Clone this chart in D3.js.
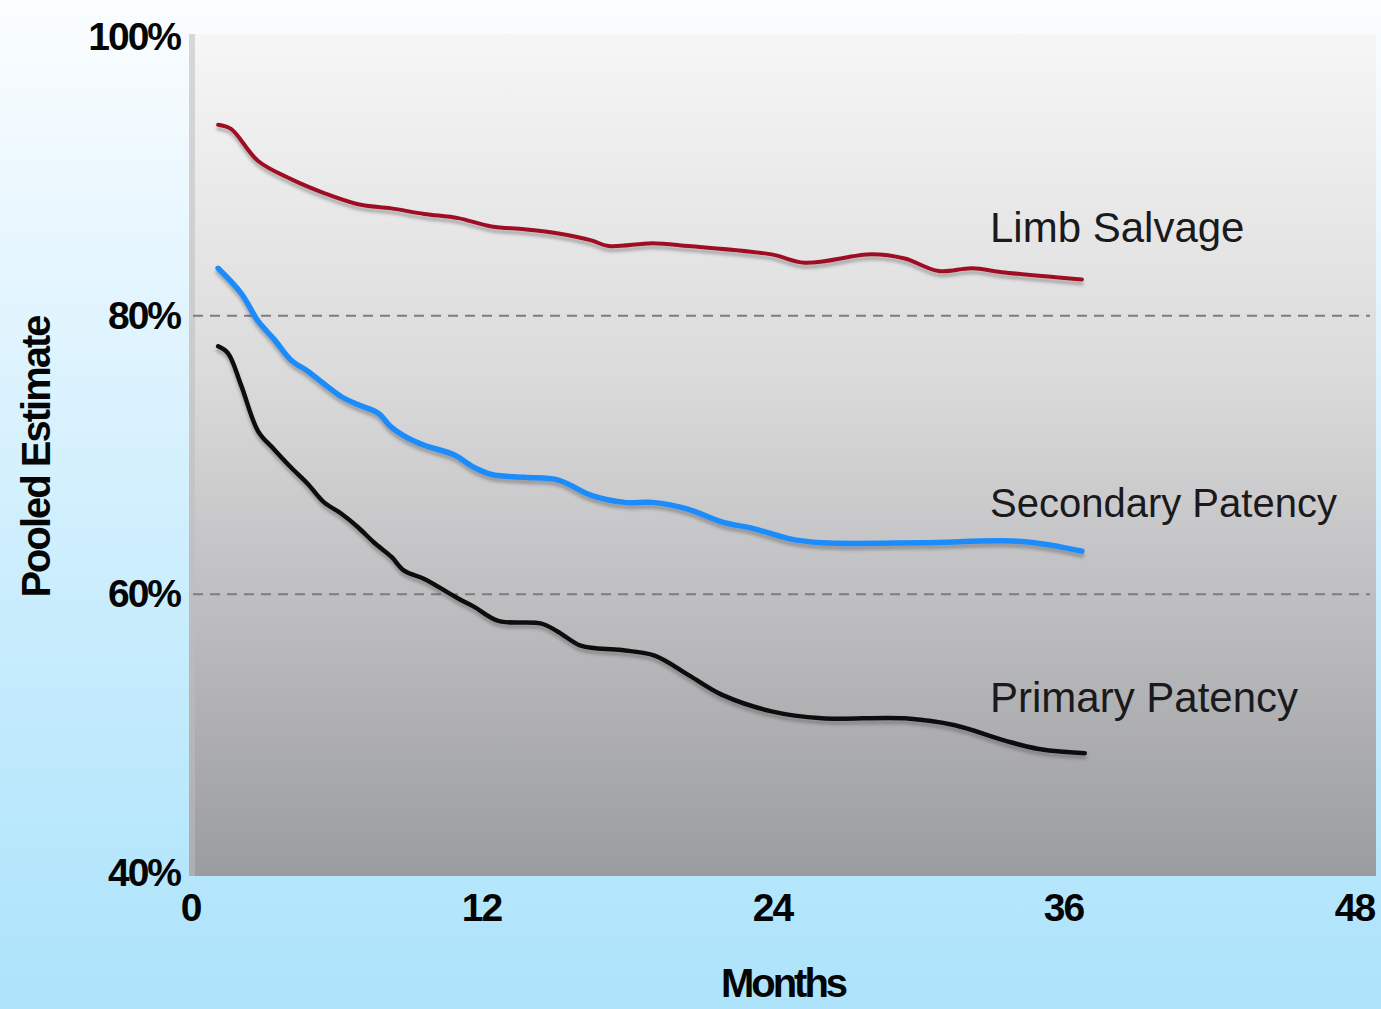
<!DOCTYPE html>
<html>
<head>
<meta charset="utf-8">
<script src="https://cdn.jsdelivr.net/npm/d3@7"></script>
<style>
  html, body { margin: 0; padding: 0; }
  body { width: 1381px; height: 1009px; overflow: hidden; }
  svg { display: block; }
</style>
</head>
<body>
<svg id="chart" width="1381" height="1009"></svg>
<script>

// months, one list per curve
var limb_months = [1.16, 1.69, 2.81, 4.17, 5.53, 6.94, 8.30, 9.66, 11.06, 12.43, 13.79, 15.19, 16.55, 17.26, 19.07, 20.56, 23.98, 25.35, 28.11, 29.47, 30.88, 32.24, 33.60, 36.78]
var limb_salvage = [93.7, 93.4, 91.1, 89.8, 88.8, 88.0, 87.7, 87.3, 87.0, 86.4, 86.2, 85.9, 85.4, 85.0, 85.2, 85.0, 84.4, 83.8, 84.4, 84.1, 83.2, 83.4, 83.1, 82.6]

var secondary_months = [1.16, 2.11, 2.81, 3.47, 4.17, 4.87, 5.53, 6.23, 6.94, 7.76, 8.30, 9.00, 9.66, 10.90, 11.72, 12.43, 13.79, 15.19, 16.55, 17.92, 19.07, 20.56, 21.92, 23.28, 24.69, 26.05, 30.18, 34.30, 36.78]
var secondary_patency = [83.4, 81.6, 79.6, 78.3, 76.8, 76.0, 75.1, 74.2, 73.6, 73.0, 72.0, 71.2, 70.7, 70.0, 69.1, 68.6, 68.4, 68.2, 67.1, 66.6, 66.6, 66.1, 65.2, 64.7, 64.0, 63.7, 63.7, 63.8, 63.1]

var primary_months = [1.16, 1.57, 2.11, 2.81, 3.47, 4.17, 4.87, 5.53, 6.23, 6.94, 7.60, 8.30, 8.83, 9.66, 11.06, 11.72, 12.71, 14.49, 15.19, 16.14, 17.79, 19.16, 20.56, 21.92, 23.98, 26.05, 29.47, 31.54, 33.60, 35.00, 36.90]
var primary_patency = [77.8, 77.3, 75.0, 71.7, 70.4, 69.1, 67.9, 66.6, 65.8, 64.8, 63.7, 62.7, 61.7, 61.1, 59.7, 59.1, 58.1, 57.9, 57.3, 56.3, 56.0, 55.6, 54.2, 52.8, 51.6, 51.1, 51.1, 50.6, 49.5, 48.9, 48.6]

var series_names = ["Limb Salvage", "Secondary Patency", "Primary Patency"]
var x_ticks = [0, 12, 24, 36, 48]
var y_ticks = [40, 60, 80, 100]
var grid_values = [60, 80]

var svg = d3.select("#chart")
var W = 1381, H = 1009
var plot = {left: 189, right: 1376, top: 34, bottom: 876}

var x = d3.scaleLinear().domain([0, 48]).range([190, 1354])
var y = d3.scaleLinear().domain([40, 100]).range([873, 37])

var defs = svg.append("defs")

var bg = defs.append("linearGradient").attr("id", "bg").attr("x1", 0).attr("y1", 0).attr("x2", 0).attr("y2", 1)
bg.append("stop").attr("offset", "0%").attr("stop-color", "#fbfdff")
bg.append("stop").attr("offset", "55%").attr("stop-color", "#cdeefd")
bg.append("stop").attr("offset", "100%").attr("stop-color", "#ace3fb")

var pg = defs.append("linearGradient").attr("id", "pg").attr("x1", 0).attr("y1", 0).attr("x2", 0).attr("y2", 1)
pg.append("stop").attr("offset", "0%").attr("stop-color", "#f6f6f6")
pg.append("stop").attr("offset", "40%").attr("stop-color", "#dbdbdc")
pg.append("stop").attr("offset", "100%").attr("stop-color", "#9b9c9f")

var shadow = defs.append("filter").attr("id", "shadow")
    .attr("x", "-5%").attr("y", "-5%").attr("width", "110%").attr("height", "120%")
shadow.append("feDropShadow")
    .attr("dx", 0).attr("dy", 4).attr("stdDeviation", 1.6)
    .attr("flood-color", "#444").attr("flood-opacity", 0.35)

svg.append("rect").attr("width", W).attr("height", H).attr("fill", "url(#bg)")

// plot panel
svg.append("rect")
    .attr("x", plot.left).attr("y", plot.top)
    .attr("width", plot.right - plot.left).attr("height", plot.bottom - plot.top)
    .attr("fill", "url(#pg)")
svg.append("rect")
    .attr("x", plot.left).attr("y", plot.top)
    .attr("width", 6).attr("height", plot.bottom - plot.top)
    .attr("fill", "#bdbdbf").attr("opacity", 0.55)

// dashed gridlines
svg.selectAll(".grid")
    .data(grid_values)
  .enter().append("line")
    .attr("class", "grid")
    .attr("x1", plot.left + 4).attr("x2", plot.right - 6)
    .attr("y1", function(d){ return y(d) }).attr("y2", function(d){ return y(d) })
    .attr("stroke", "#7d7d80").attr("stroke-width", 2)
    .attr("stroke-dasharray", "10,7")

// axes: labels only
var yAxis = svg.append("g")
    .attr("transform", "translate(" + plot.left + ",0)")
    .call(d3.axisLeft(y).tickValues(y_ticks).tickSize(0).tickPadding(9)
      .tickFormat(function(d){ return d + "%" }))
var xAxis = svg.append("g")
    .attr("transform", "translate(0," + plot.bottom + ")")
    .call(d3.axisBottom(x).tickValues(x_ticks).tickSize(0).tickPadding(17))

;[yAxis, xAxis].forEach(function(g){
  g.select(".domain").remove()
  g.selectAll("text")
      .attr("fill", "#050505")
      .style("font-family", "'Liberation Sans', Arial, sans-serif")
      .style("font-weight", "bold")
      .style("font-size", "39px")
      .style("letter-spacing", "-2px")
})

// curves
var line = d3.line()
    .x(function(d){ return x(d[0]) })
    .y(function(d){ return y(d[1]) })
    .curve(d3.curveCatmullRom.alpha(0.5))

var curves = [
  {months: limb_months, values: limb_salvage, color: "#9e1022", width: 4},
  {months: secondary_months, values: secondary_patency, color: "#1b8cfb", width: 5.5},
  {months: primary_months, values: primary_patency, color: "#0c0c0e", width: 4.5}
]

curves.forEach(function(c){
  svg.append("path")
      .datum(d3.zip(c.months, c.values))
      .attr("d", line)
      .attr("fill", "none")
      .attr("stroke", c.color)
      .attr("stroke-width", c.width)
      .attr("stroke-linecap", "round")
      .attr("stroke-linejoin", "round")
      .attr("filter", "url(#shadow)")
})

// curve labels
var label_baselines = [242, 517, 712]
svg.selectAll(".series-label")
    .data(series_names)
  .enter().append("text")
    .attr("class", "series-label")
    .attr("x", 990)
    .attr("y", function(d, i){ return label_baselines[i] })
    .attr("fill", "#1a1a1c")
    .style("font-family", "'Liberation Sans', Arial, sans-serif")
    .style("font-size", function(d, i){ return i == 1 ? "40px" : "42px" })
    .text(function(d){ return d })

// axis titles
svg.append("text")
    .attr("x", 783)
    .attr("y", 997)
    .attr("text-anchor", "middle")
    .attr("fill", "#050505")
    .style("font-family", "'Liberation Sans', Arial, sans-serif")
    .style("font-weight", "bold")
    .style("font-size", "40px")
    .style("letter-spacing", "-3px")
    .text("Months")

svg.append("text")
    .attr("transform", "translate(50,457) rotate(-90)")
    .attr("text-anchor", "middle")
    .attr("fill", "#050505")
    .style("font-family", "'Liberation Sans', Arial, sans-serif")
    .style("font-weight", "bold")
    .style("font-size", "40px")
    .style("letter-spacing", "-2px")
    .text("Pooled Estimate")

</script>
</body>
</html>
